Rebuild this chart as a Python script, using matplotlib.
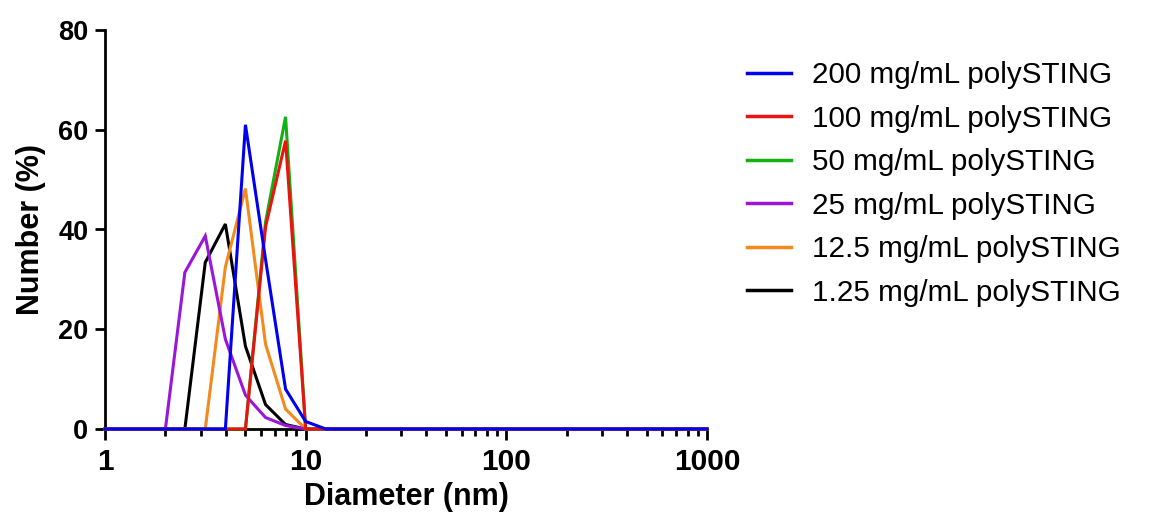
import matplotlib
matplotlib.use("Agg")
import matplotlib.pyplot as plt
from matplotlib.ticker import LogLocator, NullFormatter, FixedLocator

plt.rcParams['font.family'] = ['Liberation Sans', 'DejaVu Sans']

# Diameter bins (nm)
diameter = [1.0, 2.0, 2.5, 3.16, 3.98, 5.01, 6.31, 7.94, 10.0, 12.6, 1000.0]

labels = ["200 mg/mL polySTING", "100 mg/mL polySTING", "50 mg/mL polySTING",
          "25 mg/mL polySTING", "12.5 mg/mL polySTING", "1.25 mg/mL polySTING"]
colors = ["#0000EE", "#E8150F", "#13B013", "#9A16D8", "#F28A1E", "#000000"]

n_200 = [0, 0, 0, 0, 0, 61.0, 34.0, 8.0, 1.5, 0, 0]
n_100 = [0, 0, 0, 0, 0, 0, 40.5, 57.8, 0, 0, 0]
n_50 = [0, 0, 0, 0, 0, 0, 41.5, 62.6, 0, 0, 0]
n_25 = [0, 0, 31.4, 38.7, 18.0, 6.8, 2.3, 0.7, 0, 0, 0]
n_12_5 = [0, 0, 0, 0, 32.5, 48.2, 17.0, 4.0, 0, 0, 0]
n_1_25 = [0, 0, 0, 33.4, 41.1, 16.6, 4.9, 0.9, 0, 0, 0]

series = [n_200, n_100, n_50, n_25, n_12_5, n_1_25]

fig = plt.figure(figsize=(11.57, 5.23), dpi=100)
ax = fig.add_axes([105/1157, 1 - 429/523, (707-105)/1157, (429-30)/523])

for i, (vals, lab, col) in enumerate(zip(series, labels, colors)):
    ax.plot(diameter, vals, color=col, lw=2.2, label=lab, zorder=10 - i,
            solid_joinstyle='miter', clip_on=False)

ax.set_xscale('log')
ax.set_xlim(1, 1000)
ax.set_ylim(0, 80)
ax.set_yticks([0, 20, 40, 60, 80])
ax.xaxis.set_major_locator(FixedLocator([1, 10, 100, 1000]))
ax.set_xticklabels(['1', '10', '100', '1000'])
ax.xaxis.set_minor_locator(LogLocator(base=10, subs=range(2, 10)))
ax.xaxis.set_minor_formatter(NullFormatter())

for s in ['top', 'right']:
    ax.spines[s].set_visible(False)
for s in ['left', 'bottom']:
    ax.spines[s].set_linewidth(2.0)
    ax.spines[s].set_color('black')

ax.tick_params(axis='y', which='major', length=7, width=2, labelsize=19.5,
               direction='out', pad=5)
ax.tick_params(axis='x', which='major', length=8, width=2, labelsize=21.5,
               direction='out', pad=6)
ax.tick_params(axis='x', which='minor', length=5, width=2)
for t in ax.get_xticklabels() + ax.get_yticklabels():
    t.set_fontweight('bold')

ax.set_xlabel('Diameter (nm)', fontsize=22, fontweight='bold', labelpad=4)
ax.set_ylabel('Number (%)', fontsize=22, fontweight='bold', labelpad=9)

leg = fig.legend(loc='upper left', bbox_to_anchor=(747/1157, 1 - 61/523),
                 frameon=False, fontsize=21.3, handlelength=1.48, handletextpad=0.72,
                 labelspacing=0.525, borderpad=0, borderaxespad=0)
for line in leg.get_lines():
    line.set_linewidth(2.5)

fig.savefig('out.png', dpi=100)
